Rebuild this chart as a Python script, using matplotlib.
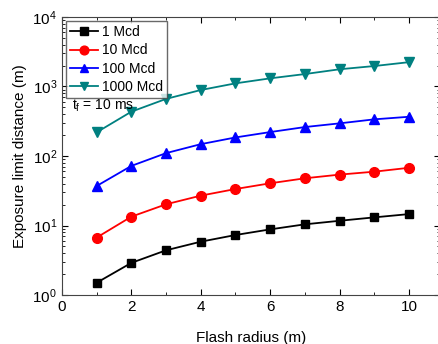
import numpy as np
import matplotlib.pyplot as plt
from matplotlib.ticker import MultipleLocator, LogLocator, NullFormatter

plt.rcParams['font.family'] = ['Liberation Sans', 'DejaVu Sans']
plt.rcParams['mathtext.fontset'] = 'custom'
plt.rcParams['mathtext.rm'] = 'Liberation Sans'
plt.rcParams['mathtext.it'] = 'Liberation Sans:italic'

radius = [1, 2, 3, 4, 5, 6, 7, 8, 9, 10]
d_1 = [1.5, 2.9, 4.4, 5.85, 7.3, 8.8, 10.4, 11.7, 13.1, 14.6]
d_10 = [6.7, 13.4, 20.2, 26.9, 33.5, 40.5, 47.8, 54, 59.5, 67.7]
d_100 = [37, 72, 110, 148, 185, 221, 261, 295, 337, 367]
d_1000 = [219, 434, 663, 890, 1110, 1310, 1510, 1770, 1970, 2240]

fig = plt.figure(figsize=(4.39, 3.44), dpi=100)
ax = fig.add_axes([0.141, 0.1424, 0.862, 0.8082])

ax.plot(radius, d_1, 'k-s', ms=6, lw=1.3, label='1 Mcd')
ax.plot(radius, d_10, '-o', color='red', ms=7, lw=1.3, label='10 Mcd')
ax.plot(radius, d_100, '-^', color='blue', ms=7, lw=1.3, label='100 Mcd')
ax.plot(radius, d_1000, '-v', color='#008080', ms=7, lw=1.3, label='1000 Mcd')

ax.set_yscale('log')
ax.set_xlim(0, 10.9)
ax.set_ylim(1, 1e4)
ax.xaxis.set_major_locator(MultipleLocator(2))
ax.xaxis.set_minor_locator(MultipleLocator(1))
ax.yaxis.set_major_locator(LogLocator(base=10))
ax.yaxis.set_minor_locator(LogLocator(base=10, subs=np.arange(2, 10)))
ax.yaxis.set_minor_formatter(NullFormatter())
ax.tick_params(which='both', direction='in', top=True, right=True, labelsize=11)
ax.tick_params(which='major', length=4)
ax.tick_params(which='minor', length=2)
for s in ax.spines.values():
    s.set_color('#444444')

ax.set_xlabel('Flash radius (m)', fontsize=11, labelpad=12)
ax.set_ylabel('Exposure limit distance (m)', fontsize=11, labelpad=4)

leg = ax.legend(loc='upper left', fontsize=10, frameon=True, fancybox=False,
                edgecolor='#444444', borderaxespad=0.3, handlelength=2.0,
                borderpad=0.3, labelspacing=0.3, handletextpad=0.3,
                markerscale=0.9)
leg.get_frame().set_linewidth(1.0)

ax.text(0.3, 460, r'$\mathrm{t_f}$ = 10 ms', fontsize=10, va='baseline')

fig.savefig('out.png', dpi=100)
